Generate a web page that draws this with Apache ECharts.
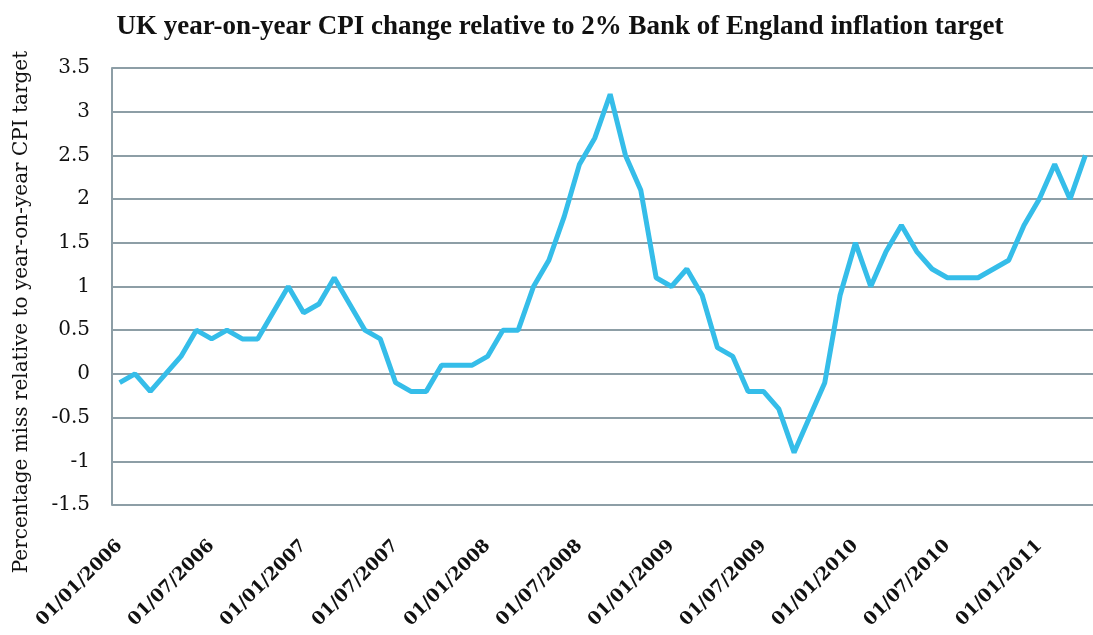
<!DOCTYPE html>
<html>
<head>
<meta charset="utf-8">
<title>UK CPI vs target</title>
<script src="https://cdn.jsdelivr.net/npm/echarts@6/dist/echarts.min.js"></script>
<style>
  html, body { margin: 0; padding: 0; background: #fff; }
  #chart { width: 1093px; height: 635px; }
</style>
</head>
<body>
<div id="chart"></div>
<script>
// monthly observations, Jan 2006 .. Apr 2011
const months = [
  '01/01/2006', '01/02/2006', '01/03/2006', '01/04/2006', '01/05/2006', '01/06/2006',
  '01/07/2006', '01/08/2006', '01/09/2006', '01/10/2006', '01/11/2006', '01/12/2006',
  '01/01/2007', '01/02/2007', '01/03/2007', '01/04/2007', '01/05/2007', '01/06/2007',
  '01/07/2007', '01/08/2007', '01/09/2007', '01/10/2007', '01/11/2007', '01/12/2007',
  '01/01/2008', '01/02/2008', '01/03/2008', '01/04/2008', '01/05/2008', '01/06/2008',
  '01/07/2008', '01/08/2008', '01/09/2008', '01/10/2008', '01/11/2008', '01/12/2008',
  '01/01/2009', '01/02/2009', '01/03/2009', '01/04/2009', '01/05/2009', '01/06/2009',
  '01/07/2009', '01/08/2009', '01/09/2009', '01/10/2009', '01/11/2009', '01/12/2009',
  '01/01/2010', '01/02/2010', '01/03/2010', '01/04/2010', '01/05/2010', '01/06/2010',
  '01/07/2010', '01/08/2010', '01/09/2010', '01/10/2010', '01/11/2010', '01/12/2010',
  '01/01/2011', '01/02/2011', '01/03/2011', '01/04/2011'
];

// CPI minus the 2% target, percentage points
const cpiMiss = [
  -0.1, 0.0, -0.2, 0.0, 0.2, 0.5, 0.4, 0.5, 0.4, 0.4, 0.7, 1.0,
  0.7, 0.8, 1.1, 0.8, 0.5, 0.4, -0.1, -0.2, -0.2, 0.1, 0.1, 0.1,
  0.2, 0.5, 0.5, 1.0, 1.3, 1.8, 2.4, 2.7, 3.2, 2.5, 2.1, 1.1,
  1.0, 1.2, 0.9, 0.3, 0.2, -0.2, -0.2, -0.4, -0.9, -0.5, -0.1, 0.9,
  1.5, 1.0, 1.4, 1.7, 1.4, 1.2, 1.1, 1.1, 1.1, 1.2, 1.3, 1.7,
  2.0, 2.4, 2.0, 2.5
];

const gridColor = '#8d9ea6';
const serif = 'DejaVu Serif';

const chart = echarts.init(document.getElementById('chart'));

const option = {
  backgroundColor: '#ffffff',
  animation: false,
  title: {
    text: 'UK year-on-year CPI change relative to 2% Bank of England inflation target',
    left: 555,
    textAlign: 'center',
    top: 9,
    textStyle: {
      fontFamily: 'Liberation Serif',
      fontWeight: 'bold',
      fontSize: 27,
      color: '#111'
    }
  },
  graphic: [{
    type: 'text',
    x: 22,
    y: 312,
    rotation: Math.PI / 2,
    style: {
      text: 'Percentage miss relative to year-on-year CPI target',
      fontFamily: serif,
      fontSize: 20,
      fill: '#111',
      textAlign: 'center',
      textVerticalAlign: 'middle'
    }
  }],
  grid: {
    left: 112,
    right: -4,
    top: 68,
    bottom: 130
  },
  xAxis: {
    type: 'category',
    data: months,
    boundaryGap: true,
    axisLine: { show: false },
    axisTick: { show: false },
    axisLabel: {
      interval: 5,
      rotate: 45,
      margin: 38,
      fontFamily: serif,
      fontWeight: 'bold',
      fontSize: 18,
      color: '#111'
    },
    splitLine: { show: false }
  },
  yAxis: {
    type: 'value',
    min: -1.5,
    max: 3.5,
    interval: 0.5,
    axisLine: { show: true, lineStyle: { color: gridColor, width: 2 } },
    axisTick: { show: false },
    axisLabel: {
      margin: 22,
      fontFamily: serif,
      fontSize: 20,
      color: '#111'
    },
    splitLine: { lineStyle: { color: gridColor, width: 2 } }
  },
  series: [{
    type: 'line',
    data: cpiMiss,
    symbol: 'none',
    lineStyle: { color: '#35bde9', width: 5 },
    itemStyle: { color: '#35bde9' }
  }]
};

chart.setOption(option);
</script>
</body>
</html>
